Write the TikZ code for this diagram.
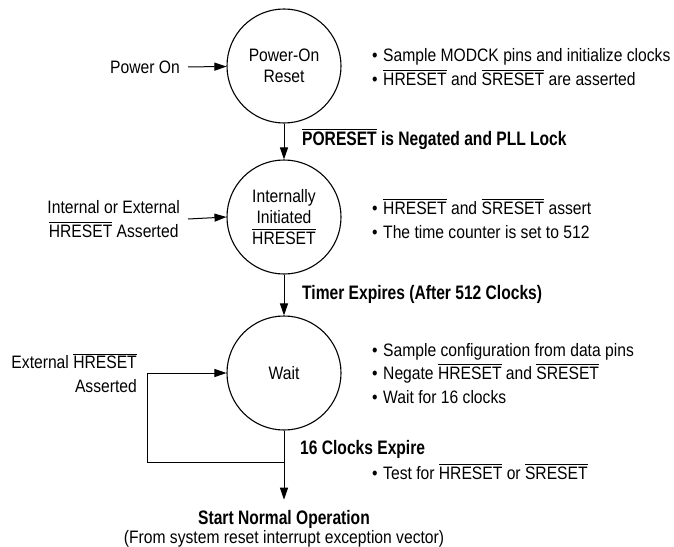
\documentclass[tikz,border=0pt]{standalone}
\usepackage{fontspec}
\setmainfont{Liberation Sans}[FakeStretch=0.87]
\newfontfamily\labfont{Liberation Sans}[FakeStretch=0.80]
\usetikzlibrary{arrows.meta}
\newcommand\ovl[1]{\leavevmode\vbox{\hrule height 0.7pt\kern 2pt\hbox{#1}}}
\newcommand\bul{\makebox[11pt][l]{•}}
\begin{document}
\begin{tikzpicture}[x=1pt,y=-1pt,
  txt/.style={font=\fontsize{18}{23.5}\selectfont, inner sep=0pt},
  lab/.style={font=\labfont\fontsize{19.5}{23.5}\selectfont\bfseries, inner sep=0pt, anchor=base west},
  item/.style={txt, anchor=base west},
  state/.style={circle, draw, line width=1.1pt, minimum size=114pt, inner sep=0pt,
                align=center, font=\fontsize{18}{21}\selectfont},
  arr/.style={line width=1pt, -{Triangle[length=12pt,width=8pt]}},
  ln/.style={line width=1pt}]
\useasboundingbox (0,0) rectangle (674,546);

% states
\node[state] (c1) at (284,66) {Power-On\\Reset};
\node[state] (c2) at (284,217) {Internally\\Initiated\\\ovl{HRESET}};
\node[state] (c3) at (284,373) {Wait};

% inputs
\node[txt, anchor=base east, inner xsep=8pt] (pon) at (188,73.5) {Power On};
\node[txt, align=center, anchor=east, inner xsep=8pt] (iel) at (188,219) {Internal or External\\\ovl{HRESET} Asserted};
\node[txt, align=right, anchor=east] (ext) at (137,373) {External \ovl{HRESET}\\Asserted};

% bullets
\node[item] (l1a) at (372,61.5) {\bul Sample MODCK pins and initialize clocks};
\node[item] (l1b) at (372,85.5) {\bul\ovl{HRESET} and \ovl{SRESET} are asserted};
\node[item] (l2a) at (372,214.5) {\bul\ovl{HRESET} and \ovl{SRESET} assert};
\node[item] (l2b) at (372,238.5) {\bul The time counter is set to 512};
\node[item] (l3a) at (372,356.5) {\bul Sample configuration from data pins};
\node[item] (l3b) at (372,379.5) {\bul Negate \ovl{HRESET} and \ovl{SRESET}};
\node[item] (l3c) at (372,403.5) {\bul Wait for 16 clocks};
\node[item] (l4a) at (372,479.5) {\bul Test for \ovl{HRESET} or \ovl{SRESET}};

% transition labels
\node[lab] (t1) at (302,145) {\ovl{PORESET} is Negated and PLL Lock};
\node[lab] (t2) at (302,299) {Timer Expires (After 512 Clocks)};
\node[lab] (t3) at (300,454) {16 Clocks Expire};

% final
\node[lab, anchor=base] (st) at (284,524) {Start Normal Operation};
\node[txt, anchor=base] (stb) at (284,543) {(From system reset interrupt exception vector)};

% connectors
\draw[arr] (pon) -- (c1);
\draw[arr] (iel.east) -- (c2.west);
\draw[arr] (c1) -- (c2);
\draw[arr] (c2) -- (c3);
\coordinate (fb) at (284,462);
\coordinate (fbl) at (147,462);
\draw[arr] (c3) -- ([yshift=10pt]st.north);
\draw[arr] (fb) -- (fbl) |- (c3.west);
\end{tikzpicture}
\end{document}
